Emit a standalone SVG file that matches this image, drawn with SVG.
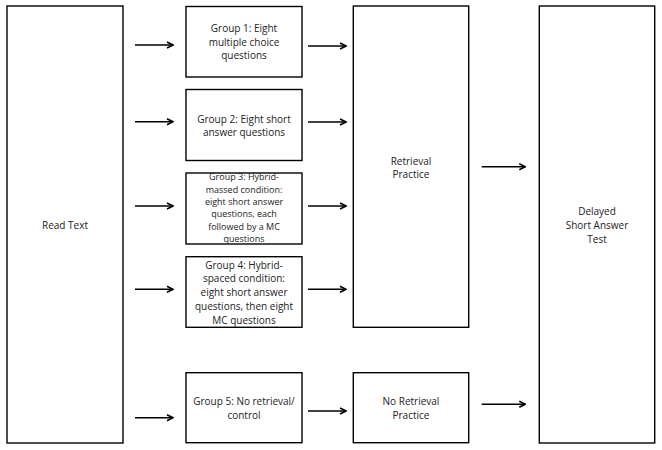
<svg xmlns="http://www.w3.org/2000/svg" width="662" height="450" viewBox="0 0 662 450">
<defs>
<marker id="ah" markerWidth="8" markerHeight="8" refX="7" refY="4" orient="auto" markerUnits="userSpaceOnUse">
<path d="M1,1 L7,4 L1,7" fill="none" stroke="#000" stroke-width="1.6"/>
</marker>
<style>
rect{fill:#fff;stroke:#000;stroke-width:1.4}
text{font-family:"Open Sans","Liberation Sans",sans-serif;font-size:10px;fill:#222;text-anchor:middle}
.s{font-size:9px}
.c line{stroke:#000;stroke-width:1.6;marker-end:url(#ah)}
</style>
</defs>
<rect x="0" y="0" width="662" height="450" style="stroke:none"/>
<g id="read"><rect x="7" y="6" width="116" height="437"/><text x="65" y="228.5">Read Text</text></g>
<g id="g1"><rect x="186" y="6.5" width="116" height="70.5"/>
<text x="244" y="32">Group 1: Eight</text><text x="244" y="45.7">multiple choice</text><text x="244" y="59.2">questions</text></g>
<g id="g2"><rect x="186" y="89.5" width="116" height="71"/>
<text x="244" y="122.5">Group 2: Eight short</text><text x="244" y="136.2">answer questions</text></g>
<g id="g3"><rect x="186" y="173" width="116" height="71"/>
<text class="s" x="244" y="180.3">Group 3: Hybrid-</text><text class="s" x="244" y="192.6">massed condition:</text><text class="s" x="244" y="204.9">eight short answer</text><text class="s" x="244" y="217.2">questions, each</text><text class="s" x="244" y="229.5">followed by a MC</text><text class="s" x="244" y="241.6">questions</text></g>
<g id="g4"><rect x="186" y="256.7" width="116" height="70.6"/>
<text x="244" y="268.5">Group 4: Hybrid-</text><text x="244" y="282.3">spaced condition:</text><text x="244" y="296.1">eight short answer</text><text x="244" y="309.9">questions, then eight</text><text x="244" y="323.7">MC questions</text></g>
<g id="g5"><rect x="186" y="372.7" width="116" height="70"/>
<text x="244" y="405.2">Group 5: No retrieval/</text><text x="244" y="418.5">control</text></g>
<g id="rp"><rect x="353.3" y="6" width="115.4" height="321.3"/>
<text x="411" y="164.5">Retrieval</text><text x="411" y="177.8">Practice</text></g>
<g id="nrp"><rect x="353.3" y="372.7" width="115.4" height="70"/>
<text x="411" y="405.2">No Retrieval</text><text x="411" y="418.5">Practice</text></g>
<g id="test"><rect x="539.3" y="6" width="115.4" height="437"/>
<text x="597" y="215.2">Delayed</text><text x="597" y="228.9">Short Answer</text><text x="597" y="242.6">Test</text></g>
<g class="c" id="connectors">
<line x1="135" y1="45" x2="173" y2="45"/>
<line x1="135" y1="121.7" x2="173" y2="121.7"/>
<line x1="135" y1="206" x2="173" y2="206"/>
<line x1="135" y1="289.3" x2="173" y2="289.3"/>
<line x1="135" y1="417.7" x2="173" y2="417.7"/>
<line x1="308" y1="46" x2="346" y2="46"/>
<line x1="308" y1="122" x2="346" y2="122"/>
<line x1="308" y1="206" x2="346" y2="206"/>
<line x1="308" y1="289.3" x2="346" y2="289.3"/>
<line x1="308" y1="411" x2="346" y2="411"/>
<line x1="481.7" y1="166.7" x2="525.3" y2="166.7"/>
<line x1="481.7" y1="404.3" x2="525.3" y2="404.3"/>
</g>
</svg>
